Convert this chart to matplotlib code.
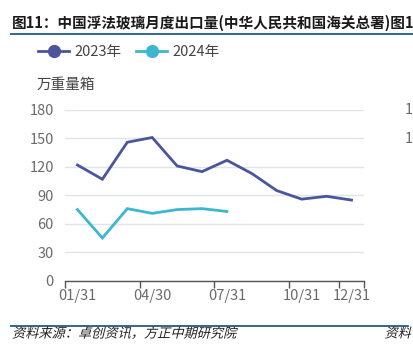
import matplotlib.pyplot as plt
from matplotlib.lines import Line2D
from matplotlib.patheffects import AbstractPathEffect
from matplotlib.transforms import Affine2D

plt.rcParams['font.family'] = ['Noto Sans CJK SC', 'DejaVu Sans']

months = list(range(12))
v2023 = [122, 107, 146, 151, 121, 115, 127, 113, 95, 86, 89, 85]
v2024 = [75, 45, 76, 71, 75, 76, 73]
xlabels = ['01/31', '04/30', '07/31', '10/31', '12/31']
xlabel_pos = [0, 3, 6, 9, 11]
yticks = [0, 30, 60, 90, 120, 150, 180]

c23 = '#4a559c'
c24 = '#3db7d0'
navy = '#1f5a8a'
grey = '#6b6b6b'


class Slant(AbstractPathEffect):
    # fake italic for the CJK footer
    def draw_path(self, renderer, gc, tpath, affine, rgbFace=None):
        renderer.draw_path(gc, tpath, Affine2D().skew_deg(14, 0) + affine, rgbFace)


W, H = 414, 357
fig = plt.figure(figsize=(W / 100, H / 100), dpi=100)
ax = fig.add_axes([65 / W, 1 - 280.7 / H, (364 - 65) / W, (280.7 - 110) / H])

ax.plot(months, v2023, color=c23, lw=2.0, solid_joinstyle='miter')
ax.plot(months[:len(v2024)], v2024, color=c24, lw=2.0, solid_joinstyle='miter')

ax.set_xlim(-0.5, 11.5)
ax.set_ylim(0, 180)
ax.set_yticks(yticks)
ax.yaxis.grid(True, color='#e0e2ec', lw=1.0)
ax.set_axisbelow(True)
for s in ['top', 'right', 'left']:
    ax.spines[s].set_visible(False)
ax.spines['bottom'].set_color('#555555')
ax.spines['bottom'].set_linewidth(1.0)
ax.tick_params(axis='y', length=0, labelsize=10.5, labelcolor=grey, pad=8)

# ticks sit on category boundaries, labels on the categories
ax.set_xticks([-0.5, 2.5, 5.5, 8.5, 10.5, 11.5])
ax.set_xticklabels([])
ax.tick_params(axis='x', which='major', length=5, color='#555555', width=1.0)
ax.set_xticks(xlabel_pos, minor=True)
ax.set_xticklabels(xlabels, minor=True)
ax.tick_params(axis='x', which='minor', length=0, labelsize=10.5, labelcolor=grey, pad=6)

# title and rules
fig.text(12 / W, 1 - 23 / H, '图11：中国浮法玻璃月度出口量(中华人民共和国海关总署)图1',
         fontsize=10.5, fontweight='bold', color='#1a1a1a', va='center', ha='left')
fig.add_artist(Line2D([11 / W, 1], [1 - 34 / H] * 2, color=navy, lw=1.3))
fig.add_artist(Line2D([11 / W, 408 / W], [1 - 326 / H] * 2, color=navy, lw=1.3))

handles = [Line2D([], [], color=c23, lw=2.0, marker='o', markersize=8.5),
           Line2D([], [], color=c24, lw=2.0, marker='o', markersize=8.5)]
fig.legend(handles, ['2023年', '2024年'], loc='center left',
           bbox_to_anchor=(31 / W, 1 - 52 / H), ncol=2, frameon=False,
           fontsize=10.5, handlelength=2.1, handletextpad=0.4,
           columnspacing=1.0, borderpad=0, labelcolor='#444444')

fig.text(37 / W, 1 - 85 / H, '万重量箱', fontsize=10.5, color='#444444',
         va='center', ha='left')

# neighbouring chart fragments on the right edge
fig.text(413 / W, 1 - 110 / H, '1', fontsize=10.5, color=grey, va='center', ha='right')
fig.text(413 / W, 1 - 139 / H, '1', fontsize=10.5, color=grey, va='center', ha='right')

fig.text(12 / W, 1 - 334 / H, '资料来源：卓创资讯，方正中期研究院', fontsize=9.5,
         color='#222222', va='center', ha='left', path_effects=[Slant()])
fig.text(411 / W, 1 - 334 / H, '资料', fontsize=9.5,
         color='#222222', va='center', ha='right', path_effects=[Slant()])

fig.savefig('out.png', dpi=100)
